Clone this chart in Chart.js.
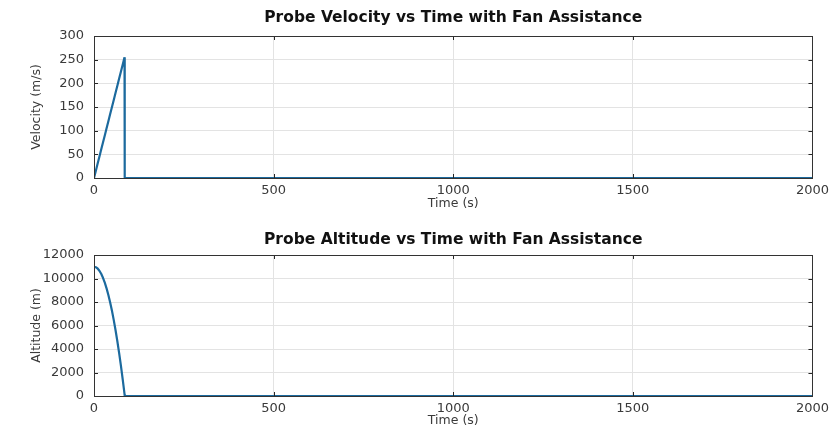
<!DOCTYPE html>
<html><head><meta charset="utf-8">
<script src="https://cdn.jsdelivr.net/npm/chart.js@4/dist/chart.umd.min.js"></script>
<style>
html,body{margin:0;padding:0;background:#fff;}
#w1{position:absolute;left:0;top:0;width:834px;height:216px;}
#w2{position:absolute;left:0;top:216px;width:834px;height:217px;}
</style></head><body>
<div id="w1"><canvas id="c1"></canvas></div>
<div id="w2"><canvas id="c2"></canvas></div>
<script>
// Time samples (s)
const timeBurn = [0,5,10,15,20,25,30,35,40,45,50,55,60,65,70,75,80,85];
// Velocity (m/s) during descent, then zero after landing
const velocityBurn = [0,15,30,45,60,75,90,105,120,135,150,165,180,195,210,225,240,255];
const altitudeBurn = [11000,10960,10850,10660,10400,10060,9650,9160,8600,7960,7250,6460,5600,4660,3650,2560,1400,160];
const timeAfter = [85.5, 2000];
const velocityAfter = [0, 0];
const altitudeAfter = [0, 0];
const xTicks = [0,500,1000,1500,2000];
const vTicks = [0,50,100,150,200,250,300];
const aTicks = [0,2000,4000,6000,8000,10000,12000];

const LINE = '#1c6a9e';
const TXT = '#3a3a3a';
const FONT = 'DejaVu Sans';

function pts(t, v){ return t.map((x,i)=>({x:x,y:v[i]})); }

const inwardTicks = {
  id:'inwardTicks',
  afterDatasetsDraw(chart){
    const {ctx, chartArea:a, scales} = chart;
    ctx.save();
    ctx.strokeStyle = '#262626'; ctx.lineWidth = 1;
    ctx.beginPath();
    scales.x.ticks.forEach(t=>{ const p = Math.round(scales.x.getPixelForValue(t.value))+0.5;
      ctx.moveTo(p,a.bottom); ctx.lineTo(p,a.bottom-4); ctx.moveTo(p,a.top); ctx.lineTo(p,a.top+4); });
    scales.y.ticks.forEach(t=>{ const p = Math.round(scales.y.getPixelForValue(t.value))+0.5;
      ctx.moveTo(a.left,p); ctx.lineTo(a.left+4,p); ctx.moveTo(a.right,p); ctx.lineTo(a.right-4,p); });
    ctx.stroke();
    ctx.strokeStyle = '#333';
    ctx.strokeRect(Math.round(a.left)+0.5, Math.round(a.top)+0.5, Math.round(a.right-a.left), Math.round(a.bottom-a.top));
    ctx.restore();
  }
};

function make(id, title, yLabel, yTicks, yMax, data, padTop, padBot, xH){
  return new Chart(document.getElementById(id), {
    type:'scatter',
    data:{datasets:[{data:data, showLine:true, borderColor:LINE, borderWidth:2.2, borderJoinStyle:'bevel', pointRadius:0, tension:0, fill:false}]},
    options:{
      responsive:true, maintainAspectRatio:false, animation:false,
      layout:{padding:{left:0,right:19,top:0,bottom:0}},
      plugins:{legend:{display:false}, tooltip:{enabled:false},
        title:{display:true, fullSize:false, text:title, color:'#111', font:{family:FONT, size:15.5, weight:'bold', lineHeight:1.2}, padding:{top:padTop, bottom:padBot}}},
      scales:{
        x:{type:'linear', min:0, max:2000, afterBuildTicks(s){ s.ticks = xTicks.map(v=>({value:v})); },
          grid:{color:'#e3e3e3', drawTicks:false}, border:{display:false},
          ticks:{color:TXT, font:{family:FONT, size:13}, padding:5, maxRotation:0, callback:v=>String(v)},
          title:{display:true, text:'Time (s)', color:TXT, font:{family:FONT, size:12.5, lineHeight:1.2}, padding:{top:0,bottom:5}},
          afterFit(s){ s.height = xH; }},
        y:{type:'linear', min:0, max:yMax, afterBuildTicks(s){ s.ticks = yTicks.map(v=>({value:v})); },
          grid:{color:'#e3e3e3', drawTicks:false}, border:{display:false},
          ticks:{color:TXT, font:{family:FONT, size:13}, padding:10, callback:v=>String(v)},
          title:{display:true, text:yLabel, color:TXT, font:{family:FONT, size:12.5, lineHeight:1.2}, padding:{top:29.5,bottom:0}},
          afterFit(s){ s.width = 94; }}
      }
    },
    plugins:[inwardTicks]
  });
}

make('c1','Probe Velocity vs Time with Fan Assistance','Velocity (m/s)', vTicks, 300,
  pts(timeBurn, velocityBurn).concat(pts(timeAfter, velocityAfter)), 9, 8.4, 38);
make('c2','Probe Altitude vs Time with Fan Assistance','Altitude (m)', aTicks, 12000,
  pts(timeBurn, altitudeBurn).concat(pts(timeAfter, altitudeAfter)), 15, 5.4, 37);
</script>
</body></html>
